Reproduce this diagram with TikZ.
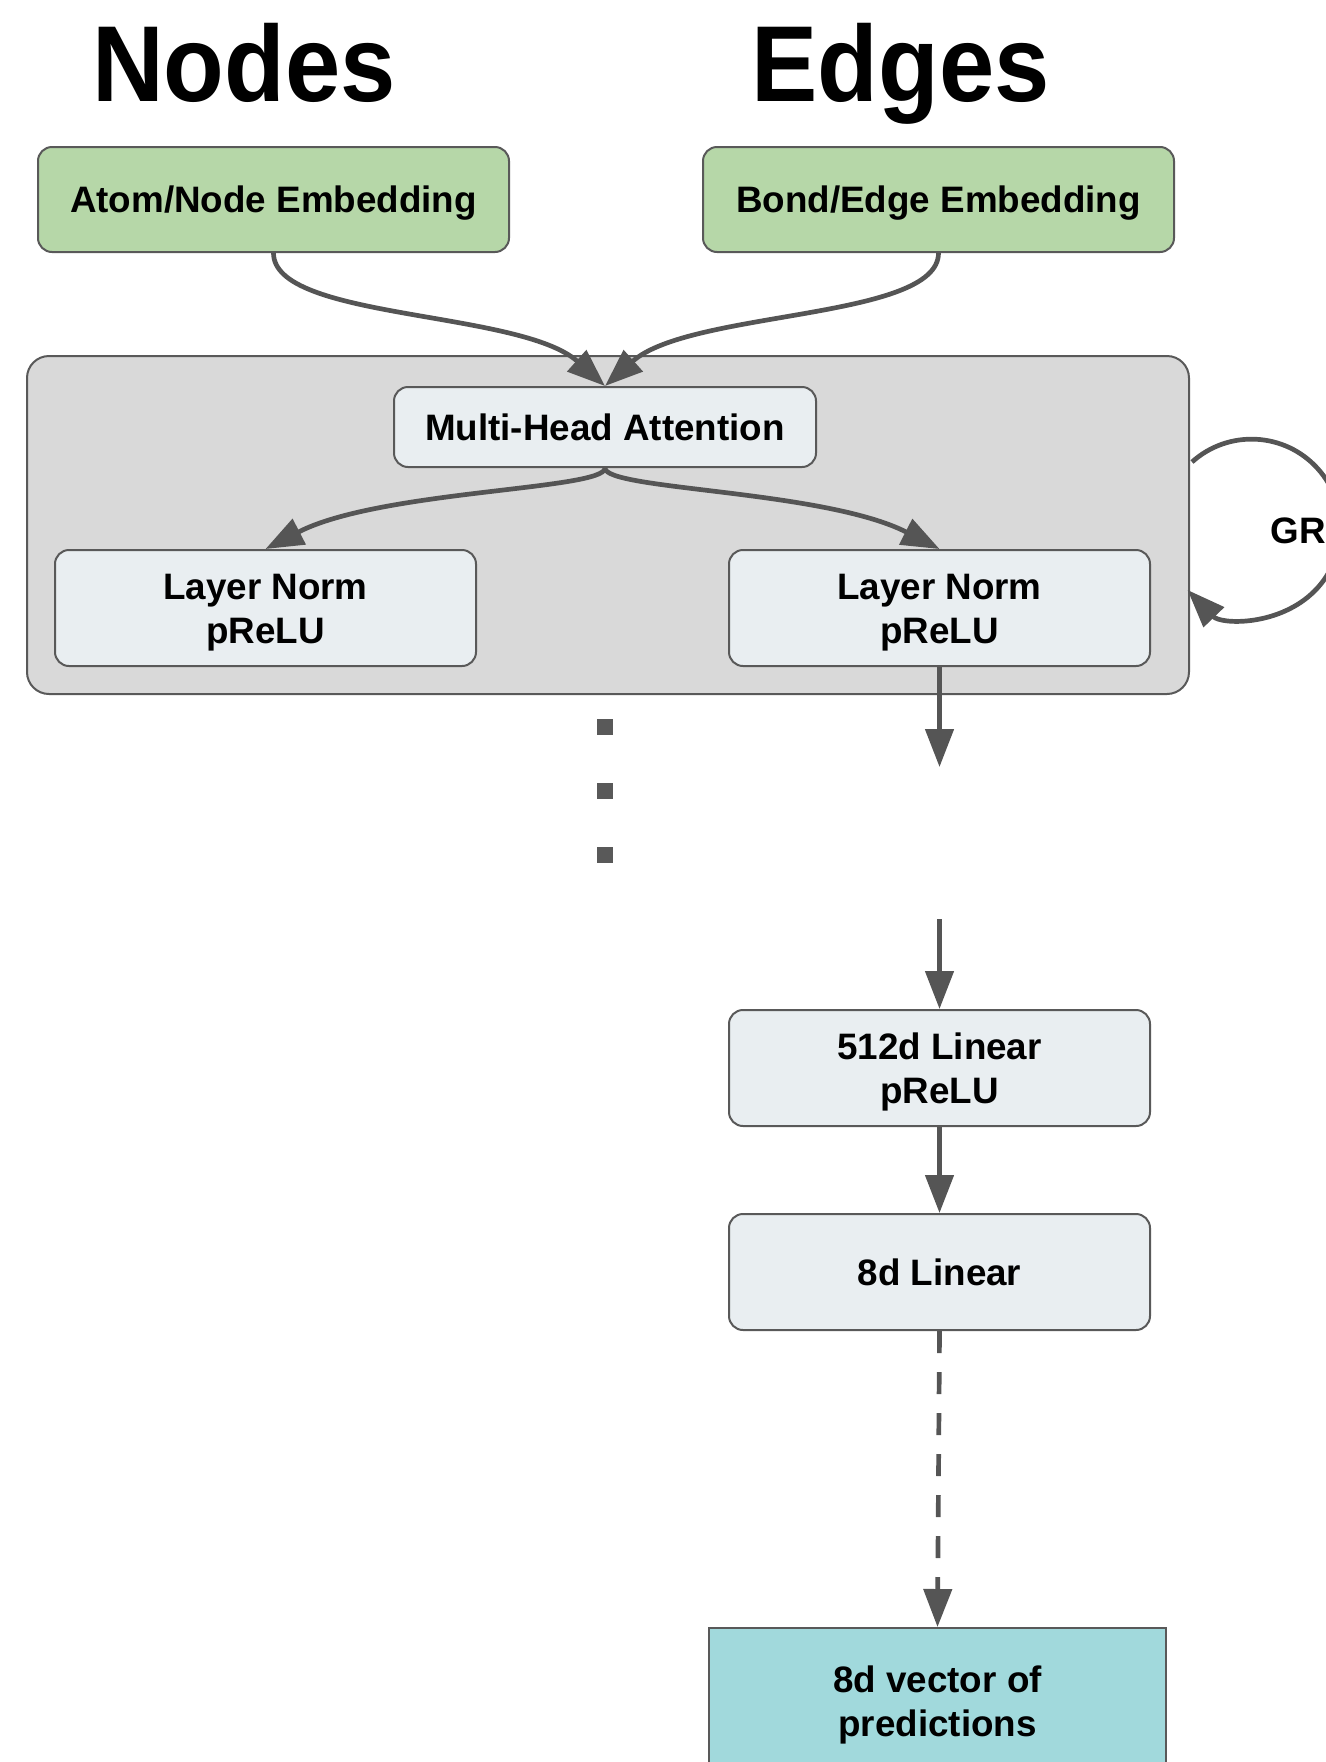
\documentclass[tikz,border=0pt]{standalone}
\usepackage{fontspec}
\setmainfont{Liberation Sans}
\newfontfamily\headfont[FakeStretch=0.92]{Liberation Sans}
\usetikzlibrary{arrows.meta}

\definecolor{embgreen}{HTML}{B6D7A8}
\definecolor{blockgray}{HTML}{D9D9D9}
\definecolor{opfill}{HTML}{E9EEF1}
\definecolor{predteal}{HTML}{A1D9DC}
\definecolor{framegray}{HTML}{595959}
\definecolor{wiregray}{HTML}{555555}

\newcommand{\labelfont}{\fontsize{18.4pt}{22pt}\selectfont\bfseries}

\tikzset{
  wire/.style={draw=wiregray, line width=2.35pt},
  arr/.style={wire, -{Triangle[length=19pt,width=14pt]}},
  boxbase/.style={draw=framegray, line width=1pt, inner sep=0pt,
    font=\labelfont, align=center, text=black},
  oneline/.style={text height=13.2pt, text depth=0pt},
  twoline/.style={text height=35.2pt, text depth=0pt},
  embbox/.style={boxbase, oneline, fill=embgreen, rounded corners=7pt,
    minimum width=235.5pt, minimum height=52.5pt},
  opbox/.style={boxbase, fill=opfill, rounded corners=7pt,
    minimum width=210.5pt, minimum height=58pt},
  predbox/.style={boxbase, twoline, fill=predteal,
    minimum width=228.5pt, minimum height=73pt},
  blockbox/.style={draw=framegray, line width=1pt, fill=blockgray,
    rounded corners=11pt, minimum width=581pt, minimum height=169pt, inner sep=0pt},
  heading/.style={font=\headfont\fontsize{54pt}{60pt}\selectfont\bfseries, inner sep=0pt},
  dotmark/.style={fill=framegray, minimum size=8pt, inner sep=0pt},
}

\begin{document}
\begin{tikzpicture}[x=0.5pt,y=-0.5pt]
\useasboundingbox (0,0) rectangle (1326,1762);
\clip (0,0) rectangle (1326,1762);

% column headings
\node[heading, anchor=base] (hnodes) at (244,101) {Nodes};
\node[heading, anchor=base] (hedges) at (900.5,101) {Edges};

% input embeddings
\node[embbox] (atom) at (273.5,199.5) {Atom/Node Embedding};
\node[embbox] (bond) at (938.5,199.5) {Bond/Edge Embedding};

% repeated attention block
\node[blockbox] (block) at (608,525) {};
\node[opbox, oneline, minimum height=40pt, minimum width=211pt] (mha) at (605,427) {Multi-Head Attention};
\node[opbox, twoline] (lnl) at (265.5,608) {Layer Norm\\pReLU};
\node[opbox, twoline] (lnr) at (939.5,608) {Layer Norm\\pReLU};

% embeddings into attention
\draw[arr] (atom.south) .. controls (273.5,320) and (520,310) .. (mha.north);
\draw[arr] (bond.south) .. controls (938.5,320) and (690,310) .. (mha.north);

% attention into the two norms
\draw[arr] (mha.south) .. controls (605,490) and (380,490) .. (lnl.north);
\draw[arr] (mha.south) .. controls (605,490) and (824,490) .. (lnr.north);

% recurrence loop
\coordinate (loopstart) at (1192,462);
\draw[arr] (loopstart) arc[start angle=-132, end angle=136, radius=89];
\node[font=\labelfont, oneline, inner sep=0pt] (grlabel) at (1298,530) {GR};

% vertical ellipsis
\node[dotmark] (dot1) at (605,727) {};
\node[dotmark] (dot2) at (605,791) {};
\node[dotmark] (dot3) at (605,855) {};

% readout head
\node[opbox, twoline] (lin512) at (939.5,1068) {512d Linear\\pReLU};
\node[opbox, oneline] (lin8) at (939.5,1272) {8d Linear};
\node[predbox] (pred) at (937.5,1701) {8d vector of\\predictions};

\coordinate (gapout) at (939.5,767);
\coordinate (gapin) at (939.5,919);
\draw[arr] (lnr.south) -- (gapout);
\draw[arr] (gapin) -- (lin512.north);
\draw[arr] (lin512.south) -- (lin8.north);
\draw[arr, dash pattern=on 11pt off 9.5pt] (lin8.south) -- (pred.north);
\end{tikzpicture}
\end{document}
